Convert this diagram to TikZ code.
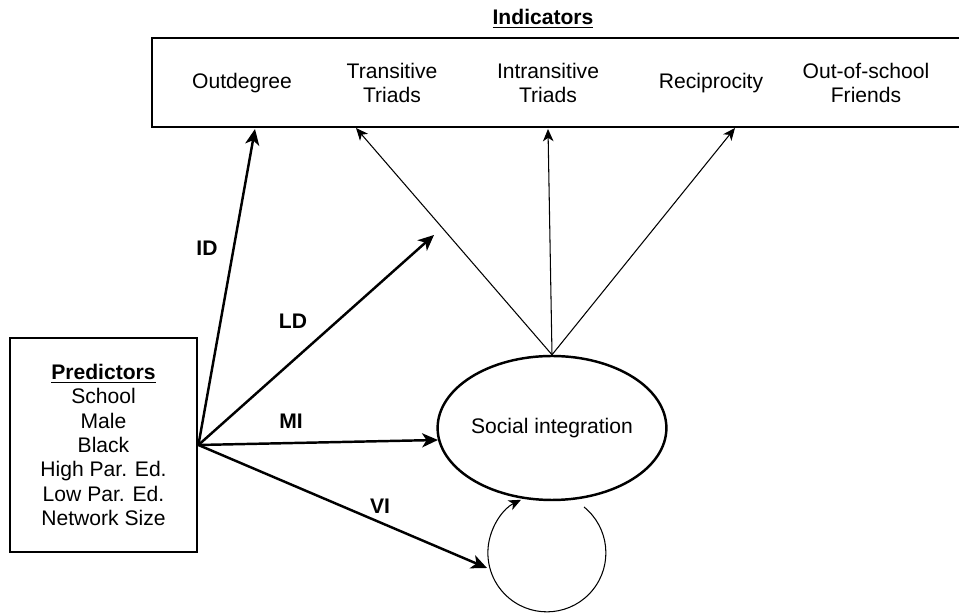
\documentclass[tikz,border=0pt]{standalone}
\usepackage{fontspec}
\setmainfont{Liberation Sans}
\usetikzlibrary{shapes.geometric,positioning,arrows.meta}

\begin{document}
\begin{tikzpicture}[
    font=\fontsize{12}{13.9}\selectfont,
    bigarrow/.style={-{Stealth[length=9pt, width=8pt, inset=2.5pt]}, line width=1.4pt},
    thinarrow/.style={-{Stealth[length=7pt, width=6pt, inset=2pt]}, line width=0.6pt},
    pathlabel/.style={font=\fontsize{12}{13.9}\selectfont\bfseries}
  ]
  \useasboundingbox (0, 0) rectangle (19.18, 12.28);
  % Nodes
  \node (title) at (10.86, 11.9) {\underline{\textbf{Indicators}}};
  \node (indbox) [rectangle, draw, line width=1.6pt, minimum height=1.78cm, minimum width=16.2cm] at (11.14, 10.63) {};
  \node (od) at (4.84, 10.62) {Outdegree};
  \node (tt) [align=center] at (7.84, 10.62) {Transitive\\Triads};
  \node (it) [align=center] at (10.96, 10.62) {Intransitive\\Triads};
  \node (rec) at (14.22, 10.62) {Reciprocity};
  \node (oos) [align=center] at (17.32, 10.62) {Out-of-school\\Friends};
  \node (pred) [rectangle, draw, line width=1.6pt, align=center, minimum height=4.28cm, minimum width=3.74cm] at (2.07, 3.38)
    {\underline{\textbf{Predictors}}\\School\\Male\\Black\\High Par. Ed.\\Low Par. Ed.\\Network Size};
  \node (si) [ellipse, draw, line width=1.4pt, inner sep=0pt, minimum width=4.28cm, minimum height=2.88cm] at (11.04, 3.72) {Social integration};
  % Arrow ends
  \coordinate (od in) at (5.10, 9.70);
  \coordinate (tt in) at (7.12, 9.72);
  \coordinate (it in) at (10.96, 9.70);
  \coordinate (rec in) at (14.70, 9.72);
  \coordinate (ld end) at (8.68, 7.58);
  \coordinate (loop w) at (9.74, 0.92);
  \coordinate (loop start) at (11.68, 2.14);
  % Arrows
  \draw[bigarrow] (pred.east) -- (od in);
  \draw[bigarrow] (pred.east) -- (ld end);
  \draw[bigarrow] (pred.east) -- (si.186);
  \draw[bigarrow] (pred.east) -- (loop w);
  \draw[thinarrow] (si.north) -- (tt in);
  \draw[thinarrow] (si.north) -- (it in);
  \draw[thinarrow] (si.north) -- (rec in);
  \draw[thinarrow] (loop start) arc[start angle=51, end angle=-244, radius=1.18];
  % Labels
  \node (id) [pathlabel] at (4.14, 7.32) {ID};
  \node (ld) [pathlabel] at (5.86, 5.86) {LD};
  \node (mi) [pathlabel] at (5.82, 3.86) {MI};
  \node (vi) [pathlabel] at (7.6, 2.16) {VI};
\end{tikzpicture}
\end{document}
